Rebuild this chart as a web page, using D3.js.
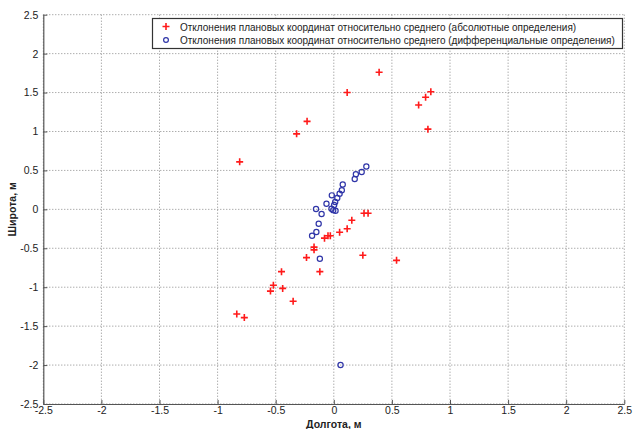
<!DOCTYPE html>
<html>
<head>
<meta charset="utf-8">
<script src="https://cdn.jsdelivr.net/npm/d3@7"></script>
<style>
  html, body { margin: 0; padding: 0; background: #fff; }
  svg { display: block; font-family: "Liberation Sans", Arial, Helvetica, sans-serif; }
</style>
</head>
<body>
<svg id="chart" width="638" height="429"></svg>
<script>
// Absolute-determination deviations (longitude, latitude), metres
const absLon = [-0.81, -0.32, -0.23, 0.39, 0.115, 0.73, 0.79, 0.835, 0.81,
                0.26, 0.295, 0.155, 0.115, 0.05, -0.03, -0.05, -0.08,
                -0.17, -0.17, -0.235, -0.12, 0.25, 0.54,
                -0.45, -0.52, -0.545, -0.44, -0.35, -0.835, -0.77];
const absLat = [0.61, 0.97, 1.13, 1.76, 1.50, 1.34, 1.44, 1.51, 1.03,
                -0.05, -0.05, -0.14, -0.25, -0.295, -0.34, -0.34, -0.37,
                -0.485, -0.52, -0.62, -0.80, -0.59, -0.655,
                -0.80, -0.975, -1.05, -1.015, -1.18, -1.345, -1.39];

// Differential-determination deviations (longitude, latitude), metres
const difLon = [0.28, 0.24, 0.19, 0.18, 0.077, 0.069, 0.05, -0.017, 0.03,
                0.012, 0.003, -0.063, -0.02, -0.005, 0.015, -0.153, -0.105,
                -0.13, -0.15, -0.187, -0.12, 0.058];
const difLat = [0.55, 0.48, 0.45, 0.39, 0.32, 0.245, 0.20, 0.18, 0.145,
                0.095, 0.055, 0.072, 0.008, -0.01, -0.018, 0.004, -0.06,
                -0.185, -0.29, -0.34, -0.634, -2.0];

const tickValues = [-2.5, -2, -1.5, -1, -0.5, 0, 0.5, 1, 1.5, 2, 2.5];
const seriesNames = [
  "Отклонения плановых координат относительно среднего (абсолютные определения)",
  "Отклонения плановых координат относительно среднего (дифференциальные определения)"
];
const xTitle = "Долгота, м";
const yTitle = "Широта, м";

const svg = d3.select("#chart");
const plotLeft = 43.3, plotRight = 624.3, plotTop = 14.7, plotBottom = 404;

const x = d3.scaleLinear().domain([-2.5, 2.5]).range([plotLeft, plotRight]);
const y = d3.scaleLinear().domain([-2.5, 2.5]).range([plotBottom, plotTop]);

const fmt = d => String(d);
const gridColor = "#8a8a8a";

// dotted grid
const grid = svg.append("g");
grid.selectAll("line.gx").data(tickValues).join("line")
  .attr("class", "gx")
  .attr("x1", d => x(d)).attr("x2", d => x(d))
  .attr("y1", plotTop).attr("y2", plotBottom)
  .attr("stroke", gridColor).attr("stroke-width", 1)
  .attr("stroke-dasharray", "1,2");
grid.selectAll("line.gy").data(tickValues).join("line")
  .attr("class", "gy")
  .attr("y1", d => y(d)).attr("y2", d => y(d))
  .attr("x1", plotLeft).attr("x2", plotRight)
  .attr("stroke", gridColor).attr("stroke-width", 1)
  .attr("stroke-dasharray", "1,2");

// axes (ticks pointing inward)
const xAxis = d3.axisBottom(x).tickValues(tickValues).tickFormat(fmt)
  .tickSizeInner(-4).tickSizeOuter(0).tickPadding(3);
const yAxis = d3.axisLeft(y).tickValues(tickValues).tickFormat(fmt)
  .tickSizeInner(-4).tickSizeOuter(0).tickPadding(5);

const gx = svg.append("g").attr("transform", `translate(0,${plotBottom})`).call(xAxis);
const gy = svg.append("g").attr("transform", `translate(${plotLeft},0)`).call(yAxis);
[gx, gy].forEach(g => {
  g.select(".domain").attr("stroke", "#555").attr("stroke-width", 1.2);
  g.selectAll(".tick line").attr("stroke", "#555");
  g.selectAll(".tick text").attr("fill", "#222").style("font-size", "10.5px")
    .style("font-family", "Liberation Sans, Arial, sans-serif");
});

// axis titles
svg.append("text").attr("x", (plotLeft + plotRight) / 2).attr("y", 427.5)
  .attr("text-anchor", "middle").attr("fill", "#222")
  .style("font-size", "10.5px").style("font-weight", "bold").text(xTitle);
svg.append("text")
  .attr("transform", `translate(16,${(plotTop + plotBottom) / 2}) rotate(-90)`)
  .attr("text-anchor", "middle").attr("fill", "#222")
  .style("font-size", "10.5px").style("font-weight", "bold").text(yTitle);

// markers
const red = "#ff1a1a", blue = "#2f35a8";
const plusPath = (cx, cy) => `M${cx - 3.5},${cy}H${cx + 3.5}M${cx},${cy - 3.5}V${cy + 3.5}`;

const marks = svg.append("g");
marks.selectAll("path.abs").data(absLon.map((v, i) => [v, absLat[i]])).join("path")
  .attr("class", "abs")
  .attr("d", d => plusPath(x(d[0]), y(d[1])))
  .attr("stroke", red).attr("stroke-width", 1.6).attr("fill", "none");

marks.selectAll("circle.dif").data(difLon.map((v, i) => [v, difLat[i]])).join("circle")
  .attr("class", "dif")
  .attr("cx", d => x(d[0])).attr("cy", d => y(d[1])).attr("r", 2.6)
  .attr("fill", "none").attr("stroke", blue).attr("stroke-width", 1.2);

// legend
const lg = svg.append("g");
lg.append("rect").attr("x", 152.5).attr("y", 18.5).attr("width", 470).attr("height", 30)
  .attr("fill", "#fff").attr("stroke", "#333").attr("stroke-width", 1.2);
lg.append("path").attr("d", plusPath(166, 26.5))
  .attr("stroke", red).attr("stroke-width", 1.6).attr("fill", "none");
lg.append("circle").attr("cx", 166).attr("cy", 40).attr("r", 2.4)
  .attr("fill", "none").attr("stroke", blue).attr("stroke-width", 1.2);
lg.selectAll("text.lt").data(seriesNames).join("text")
  .attr("class", "lt")
  .attr("x", 180).attr("y", (d, i) => 27 + i * 13.5).attr("dy", "0.35em")
  .attr("fill", "#222").style("font-size", "10px").text(d => d);
</script>
</body>
</html>
